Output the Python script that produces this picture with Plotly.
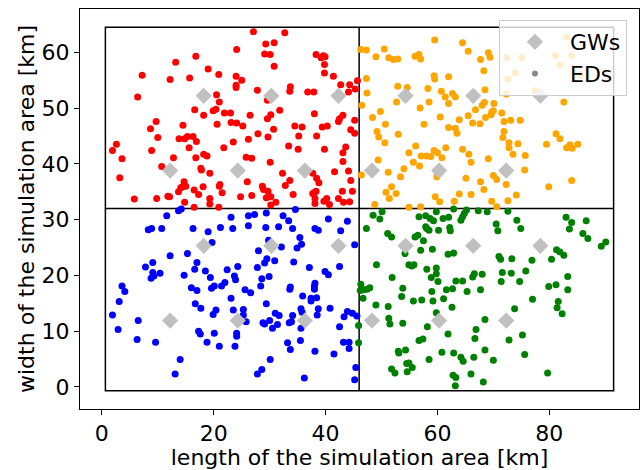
import plotly.graph_objects as go

# ---------------- data (km) ----------------
# simulation-area outline and quadrant dividers
area_x = [0.63, 91.5]
area_y = [-0.7, 64.5]
divider_x = 46.0
divider_y = 32.0

# gateways (GWs)
gw_x = [18.2, 30.3, 42.3, 54.3, 66.4, 78.4,
        12.2, 24.3, 36.3, 48.3, 60.3, 72.3,
        18.2, 30.3, 42.3, 54.3, 66.4, 78.4,
        12.2, 24.3, 36.3, 48.3, 60.3, 72.3]
gw_y = [52.2] * 6 + [38.8] * 6 + [25.3] * 6 + [11.9] * 6

# end devices (EDs), one list of (x, y) per quadrant
eds_upper_left = [
    (16.8, 59.3), (13.2, 58.2), (19.0, 57.0), (7.2, 55.9), (20.9, 56.0), (12.2, 55.1), (15.7, 55.4),
    (6.4, 52.0), (20.5, 52.4), (21.0, 51.1), (16.6, 49.7), (18.2, 48.7), (19.9, 49.5), (20.4, 49.8),
    (21.9, 49.1), (9.7, 47.6), (14.5, 46.9), (20.6, 47.1), (8.7, 46.3), (10.0, 44.7), (13.8, 44.5),
    (14.8, 44.5), (15.3, 44.9), (16.3, 44.9), (16.9, 44.0), (2.6, 43.5), (1.9, 42.4), (8.9, 42.4),
    (15.6, 42.9), (21.8, 42.9), (3.6, 40.9), (12.8, 41.1), (16.8, 41.1), (18.2, 41.7), (18.8, 41.4),
    (10.7, 39.5), (17.7, 39.2), (17.8, 38.9), (19.3, 38.3), (3.2, 37.5), (14.7, 36.8), (14.4, 35.9),
    (15.0, 36.0), (14.1, 35.7), (13.7, 35.0), (16.5, 35.3), (18.1, 35.9), (21.1, 36.3), (21.0, 36.0),
    (21.5, 34.8), (17.3, 34.5), (5.8, 33.7), (9.8, 33.8), (11.8, 34.2), (12.1, 34.1), (14.8, 33.1),
    (19.3, 33.8), (16.5, 32.2), (19.3, 32.8), (20.9, 32.2),
    (27.1, 63.7), (32.7, 63.5), (24.1, 60.5), (29.3, 61.5), (30.8, 61.7), (29.1, 59.7), (30.1, 59.6),
    (30.8, 57.5), (38.3, 59.6), (39.2, 59.0), (39.6, 59.4), (39.9, 59.2), (39.8, 57.8), (39.8, 56.3),
    (41.4, 55.7), (24.0, 55.7), (25.0, 55.0), (24.0, 54.1), (24.0, 53.7), (27.8, 53.2), (33.7, 53.8),
    (33.6, 53.0), (29.6, 51.4), (36.8, 52.9), (37.9, 52.9), (42.7, 54.2), (44.3, 54.2), (45.7, 54.9),
    (44.1, 52.9), (45.3, 53.4), (23.0, 49.1), (26.5, 48.7), (30.2, 48.8), (29.6, 48.1), (31.8, 49.6),
    (38.0, 49.0), (42.5, 48.1), (43.1, 48.7), (42.3, 47.6), (23.1, 47.4), (24.1, 47.3), (25.2, 46.8),
    (34.5, 46.8), (35.8, 46.6), (39.4, 46.6), (40.3, 46.8), (45.2, 47.8), (30.7, 46.2), (27.9, 45.4),
    (29.7, 44.8), (35.2, 45.0), (38.4, 45.0), (44.5, 46.1), (45.2, 45.5), (23.5, 43.9), (26.2, 44.4),
    (33.4, 43.2), (35.1, 42.6), (39.8, 42.6), (43.6, 43.0), (43.1, 42.0), (25.8, 41.2), (26.8, 41.0),
    (30.1, 40.3), (43.1, 40.4), (32.3, 38.3), (37.7, 38.3), (44.1, 38.7), (41.6, 38.6), (26.0, 36.8),
    (33.6, 37.0), (38.4, 37.4), (38.8, 36.6), (44.5, 37.0), (28.7, 36.0), (28.9, 35.4), (29.7, 35.1),
    (32.8, 36.1), (30.2, 34.1), (29.4, 33.9), (34.2, 34.5), (24.8, 34.1), (26.8, 34.3), (38.0, 34.8),
    (38.3, 35.1), (37.7, 34.7), (38.1, 33.8), (43.0, 35.1), (44.8, 35.1), (40.2, 33.8), (39.7, 33.3),
    (31.1, 33.1), (30.2, 32.6), (38.1, 32.9), (40.7, 32.7), (42.3, 33.8), (43.2, 33.1), (44.3, 33.2),
]

eds_upper_right = [
    (59.5, 62.2), (64.5, 61.7), (65.5, 60.2), (46.3, 60.5), (47.3, 60.4), (50.5, 60.6), (49.0, 59.2),
    (51.3, 59.0), (52.1, 58.7), (52.9, 58.8), (56.0, 59.3), (56.7, 59.6), (57.0, 58.8), (67.7, 58.7),
    (68.3, 56.7), (47.3, 55.3), (59.4, 55.8), (59.5, 55.2), (62.0, 55.6), (47.4, 52.7), (52.9, 53.9),
    (54.6, 53.7), (58.3, 53.5), (60.7, 53.0), (61.4, 52.0), (62.7, 52.6), (63.2, 52.0), (52.7, 51.1),
    (58.5, 51.1), (62.0, 50.8), (68.4, 51.0), (68.0, 50.5), (46.5, 50.5), (56.9, 50.0), (66.8, 49.7),
    (49.8, 49.4), (48.4, 48.3), (60.5, 48.4), (65.5, 48.6), (68.6, 48.3), (63.9, 47.9), (50.7, 47.1),
    (57.6, 47.1), (66.3, 47.3), (67.6, 47.2), (62.0, 46.5), (63.2, 46.4), (49.2, 45.8), (49.5, 44.8),
    (53.0, 45.3), (63.5, 45.5), (50.6, 43.8), (56.1, 43.2), (54.9, 42.0), (59.4, 42.4), (60.0, 42.0),
    (61.5, 42.9), (64.5, 42.6), (58.0, 41.4), (58.8, 41.3), (57.1, 41.4), (55.7, 40.3), (56.8, 39.6),
    (60.8, 41.1), (65.6, 41.7), (66.0, 40.3), (49.4, 40.7), (51.2, 38.5), (54.0, 39.1), (53.4, 37.7),
    (59.9, 37.7), (65.1, 37.4), (67.7, 36.8), (46.4, 38.0), (51.8, 35.9), (50.8, 34.9), (52.6, 34.7),
    (51.4, 33.8), (59.6, 34.1), (60.4, 33.2), (63.9, 34.6), (66.0, 34.5), (68.3, 35.4), (63.0, 33.3),
    (48.8, 32.7), (54.9, 32.2), (57.0, 32.3),
    (69.1, 59.9), (69.4, 59.1), (70.1, 50.8), (69.7, 49.3), (70.0, 49.5), (69.6, 48.8), (71.5, 49.1),
    (71.9, 47.6), (73.1, 47.8), (74.8, 47.8), (72.3, 52.5), (82.6, 51.1), (71.9, 45.8), (71.7, 44.7),
    (72.8, 43.8), (74.4, 43.6), (72.8, 42.9), (73.5, 41.7), (75.7, 41.5), (69.1, 40.9), (79.5, 43.5),
    (81.2, 45.4), (81.9, 44.5), (83.1, 42.9), (83.7, 43.4), (84.1, 42.8), (85.1, 43.5), (75.6, 38.9),
    (70.0, 37.9), (70.6, 37.2), (72.3, 36.3), (79.9, 35.9), (84.0, 37.0), (74.1, 34.4), (72.6, 33.4),
    (69.7, 33.3), (70.6, 32.3), (68.5, 53.3),
    (72.4, 59.0), (75.1, 59.0), (81.1, 59.4), (84.0, 59.4), (81.9, 57.7), (73.9, 56.3), (72.6, 55.2),
    (85.6, 56.0), (83.1, 62.7), (77.5, 53.1),
]

eds_lower_left = [
    (11.6, 30.7), (13.7, 31.6), (14.2, 31.9), (8.3, 28.2), (8.9, 28.4), (10.7, 28.4), (16.3, 28.4),
    (19.0, 27.8), (21.2, 28.6), (19.7, 25.9), (12.2, 23.5), (15.3, 23.9), (7.8, 21.5), (9.1, 22.3),
    (17.0, 22.3), (9.1, 20.5), (10.4, 20.4), (9.3, 19.9), (8.8, 19.5), (14.7, 20.0), (16.6, 21.1),
    (18.5, 20.8), (19.4, 19.6), (22.4, 21.0), (3.6, 18.1), (4.1, 17.1), (3.1, 15.3), (16.0, 17.8),
    (17.0, 17.3), (19.6, 17.7), (20.1, 18.1), (21.4, 18.1), (22.0, 18.7), (1.9, 12.9), (6.5, 11.9),
    (16.7, 14.9), (17.7, 14.1), (20.4, 13.8), (19.9, 13.0), (2.9, 10.3), (6.3, 8.5), (9.6, 8.0),
    (17.3, 10.0), (17.6, 9.5), (20.1, 9.6), (18.8, 8.0), (21.0, 7.3), (14.0, 4.9), (13.1, 2.3),
    (23.1, 30.4), (26.2, 30.7), (27.3, 30.9), (29.4, 31.2), (32.4, 30.7), (33.4, 29.8), (34.6, 31.8),
    (40.5, 30.1), (43.9, 29.7), (23.4, 28.4), (26.2, 28.9), (29.3, 28.6), (31.6, 28.7), (34.1, 28.4),
    (38.1, 28.4), (38.7, 28.1), (42.7, 28.0), (35.4, 26.8), (35.7, 25.6), (34.9, 24.9), (28.0, 24.4),
    (29.8, 26.3), (32.1, 25.1), (45.2, 25.5), (29.5, 23.0), (29.1, 22.2), (30.9, 22.6), (27.8, 21.4),
    (34.3, 22.4), (37.1, 21.4), (24.3, 21.6), (23.7, 19.9), (23.9, 19.2), (28.6, 19.4), (29.9, 19.8),
    (28.4, 18.1), (39.9, 20.7), (40.5, 20.1), (42.5, 21.6), (33.7, 17.9), (33.6, 17.5), (38.1, 18.6),
    (38.0, 18.0), (38.0, 17.5), (25.6, 17.4), (26.6, 16.9), (35.9, 16.3), (37.4, 15.9), (37.4, 15.4),
    (38.4, 16.0), (23.1, 15.9), (29.4, 14.9), (23.5, 13.8), (25.3, 13.9), (25.3, 12.9), (25.8, 11.7),
    (40.8, 14.1), (38.7, 14.0), (38.5, 12.9), (31.0, 13.2), (31.7, 12.8), (34.1, 12.8), (35.6, 14.0),
    (35.8, 13.4), (43.9, 13.5), (44.8, 13.2), (45.6, 12.7), (43.3, 12.6), (28.8, 11.5), (29.1, 11.3),
    (30.0, 11.9), (31.4, 11.2), (30.5, 10.5), (33.5, 11.5), (33.9, 11.7), (35.6, 10.5), (42.5, 10.8),
    (24.1, 9.6), (24.1, 9.1), (23.8, 7.3), (33.2, 7.9), (33.7, 6.7), (35.5, 8.3), (38.1, 6.4),
    (41.5, 5.9), (43.2, 8.0), (44.2, 8.0), (44.2, 6.9), (30.1, 4.9), (28.6, 3.1), (27.8, 2.3),
    (36.2, 1.6), (45.4, 3.5), (45.2, 1.3),
]

eds_lower_right = [
    (47.3, 28.4), (48.5, 30.8), (50.1, 31.4), (49.7, 30.1), (56.7, 30.5), (57.9, 30.7), (58.7, 30.2),
    (59.3, 29.8), (59.8, 31.4), (61.0, 30.2), (62.0, 30.4), (62.9, 31.9), (64.2, 29.9), (64.5, 30.5),
    (64.8, 31.1), (65.2, 31.7), (67.3, 31.6), (51.1, 27.5), (51.8, 26.9), (56.0, 26.9), (56.5, 27.2),
    (57.5, 26.2), (57.9, 28.7), (58.1, 28.4), (58.5, 28.1), (60.2, 28.1), (62.2, 28.6), (62.3, 28.0),
    (54.2, 23.9), (57.0, 24.5), (59.1, 24.7), (61.9, 23.8), (62.9, 24.0), (49.1, 21.9), (54.9, 21.9),
    (55.4, 21.7), (55.8, 21.9), (58.1, 21.1), (59.8, 21.3), (59.8, 20.3), (58.9, 19.6), (60.1, 18.9),
    (51.9, 19.6), (46.3, 18.4), (46.2, 17.3), (46.8, 17.4), (47.4, 17.5), (47.9, 17.8), (46.7, 15.9),
    (53.8, 17.7), (53.6, 16.2), (55.7, 15.4), (57.2, 15.6), (59.0, 17.1), (59.2, 15.4), (61.1, 15.8),
    (61.6, 17.4), (62.7, 17.6), (63.3, 19.0), (64.5, 19.0), (65.3, 17.1), (66.3, 19.7), (66.6, 20.3),
    (68.0, 20.2), (67.7, 17.4), (49.0, 14.7), (51.2, 14.4), (51.3, 12.3), (51.5, 11.3), (53.8, 11.4),
    (59.8, 13.3), (62.6, 14.3), (58.2, 10.8), (45.9, 11.0), (45.9, 7.9), (56.7, 8.3), (57.4, 8.6),
    (61.9, 9.5), (66.9, 10.3), (66.7, 8.7), (68.5, 6.6), (68.5, 12.1), (53.0, 6.4), (53.1, 6.1),
    (54.3, 6.6), (58.5, 4.9), (60.8, 6.2), (62.9, 6.1), (64.2, 5.3), (64.6, 4.6), (66.5, 5.3),
    (54.5, 4.2), (54.9, 4.3), (55.5, 3.5), (51.8, 3.2), (52.4, 2.5), (54.6, 2.7), (62.8, 2.1),
    (63.3, 1.7), (63.2, 0.2), (66.0, 2.3), (68.2, 0.9),
    (68.9, 31.4), (72.6, 31.5), (74.2, 29.9), (70.5, 29.2), (70.8, 28.0), (74.9, 28.4), (83.0, 30.4),
    (84.0, 29.5), (86.6, 29.8), (83.6, 28.3), (86.0, 27.5), (86.9, 26.6), (90.1, 26.0), (89.3, 25.2),
    (81.3, 24.6), (81.9, 24.2), (82.6, 23.6), (80.4, 22.9), (76.9, 22.7), (71.0, 23.4), (71.3, 22.9),
    (73.3, 23.0), (71.6, 20.5), (73.2, 20.4), (75.8, 20.8), (71.4, 18.9), (74.7, 18.9), (83.3, 19.8),
    (79.9, 18.0), (81.2, 18.3), (83.3, 17.4), (77.0, 15.7), (73.8, 14.0), (81.6, 15.3), (81.4, 14.2),
    (82.3, 13.1), (72.8, 8.4), (75.2, 9.3), (70.0, 4.8), (75.6, 5.8), (79.7, 2.5),
]

x_ticks = [0, 20, 40, 60, 80]
y_ticks = [0, 10, 20, 30, 40, 50, 60]
x_title = "length of the simulation area [km]"
y_title = "width of the simulation area [km]"

# ---------------- figure ----------------
FONT = "DejaVu Sans"
fig = go.Figure()

for pts, col in [(eds_upper_left, "#ff0000"), (eds_upper_right, "#ffa500"),
                 (eds_lower_left, "#0000ff"), (eds_lower_right, "#008000")]:
    fig.add_trace(go.Scatter(
        x=[p[0] for p in pts], y=[p[1] for p in pts], mode="markers",
        marker=dict(color=col, size=7, line=dict(width=0)),
        showlegend=False, hoverinfo="skip"))

fig.add_trace(go.Scatter(
    x=gw_x, y=gw_y, mode="markers", name="GWs", legendrank=1,
    marker=dict(symbol="diamond", color="#c0c0c0", size=12.5, line=dict(width=0))))

fig.add_trace(go.Scatter(
    x=[None], y=[None], mode="markers", name="EDs", legendrank=2,
    marker=dict(color="#888888", size=6, line=dict(width=0))))

# simulation area outline and dividers
fig.add_shape(type="rect", x0=area_x[0], x1=area_x[1], y0=area_y[0], y1=area_y[1],
              line=dict(color="black", width=1.5), layer="below")
fig.add_shape(type="line", x0=divider_x, x1=divider_x, y0=area_y[0], y1=area_y[1],
              line=dict(color="black", width=1.5), layer="below")
fig.add_shape(type="line", x0=area_x[0], x1=area_x[1], y0=divider_y, y1=divider_y,
              line=dict(color="black", width=1.5), layer="below")

axis_common = dict(showgrid=False, zeroline=False, showline=True, mirror=True,
                   linecolor="black", linewidth=1, ticks="outside", ticklen=5,
                   tickwidth=1, tickcolor="black",
                   tickfont=dict(family=FONT, size=22, color="black"))

fig.update_layout(
    width=640, height=470,
    margin=dict(l=80, r=1, t=9, b=61, autoexpand=False),
    paper_bgcolor="white", plot_bgcolor="white",
    font=dict(family=FONT, size=22, color="black"),
    xaxis=dict(range=[-3.91, 96.04], tickvals=x_ticks, **axis_common,
               title=dict(text=x_title, font=dict(family=FONT, size=22), standoff=4)),
    yaxis=dict(range=[-3.96, 67.76], tickvals=y_ticks, **axis_common,
               title=dict(text=y_title, font=dict(family=FONT, size=22), standoff=0)),
    legend=dict(x=0.9785, y=0.9725, xanchor="right", yanchor="top", itemwidth=60,
                bgcolor="rgba(255,255,255,0.8)", bordercolor="#cccccc", borderwidth=1,
                font=dict(family=FONT, size=22, color="black")),
)

fig.write_html("out.html", config={"displayModeBar": False},
               post_script="document.body.style.margin='0';document.body.style.overflow='hidden';")
